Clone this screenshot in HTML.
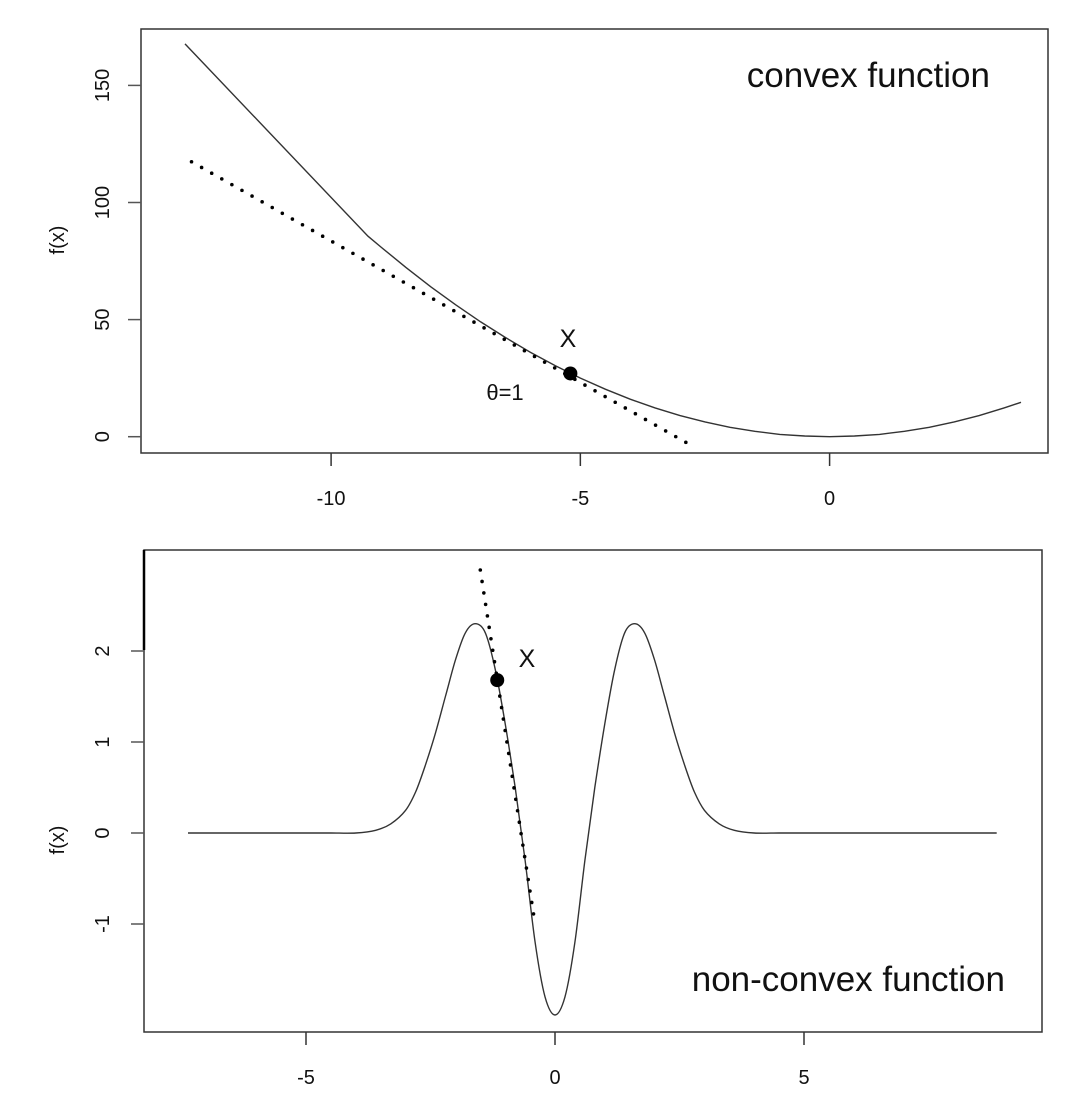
<!DOCTYPE html>
<html><head><meta charset="utf-8"><style>
html,body{margin:0;padding:0;background:#fff;}
svg{display:block;font-family:"Liberation Sans",Arial,sans-serif;}
</style></head><body>
<svg id="chart" width="1072" height="1104" viewBox="0 0 1072 1104">
<g id="top"></g>
<g id="bot"></g>
</svg>
<script>
// ---- top panel data ----
const topCurveX = [-12.93,-9.26,-9,-8.5,-8,-7.5,-7,-6.5,-6,-5.5,-5,-4.5,-4,-3.5,-3,-2.5,-2,-1.5,-1,-0.5,0,0.5,1,1.5,2,2.5,3,3.5,3.84];
const topCurveY = [167.7,85.6,81,72.3,64,56.3,49,42.3,36,30.3,25,20.3,16,12.3,9,6.3,4,2.3,1,0.3,0,0.3,1,2.3,4,6.3,9,12.3,14.7];
const topTangentX = [-12.8,-2.86];
const topTangentY = [117.4,-2.7];
const topPoint = [-5.2,27];
const topXTicks = [-10,-5,0];
const topYTicks = [0,50,100,150];
// ---- bottom panel data ----
const botCurveX = [-7.37,-6,-5,-4.5,-4,-3.6,-3.3,-3,-2.8,-2.6,-2.4,-2.2,-2,-1.8,-1.6,-1.4,-1.2,-1,-0.8,-0.6,-0.4,-0.2,0,0.2,0.4,0.6,0.8,1,1.2,1.4,1.6,1.8,2,2.2,2.4,2.6,2.8,3,3.3,3.6,4,4.5,5,6,7,8.87];
const botCurveY = [0,0,0,0,0,0.03,0.1,0.25,0.45,0.75,1.1,1.5,1.9,2.2,2.3,2.2,1.8,1.2,0.5,-0.3,-1.2,-1.8,-2.0,-1.8,-1.2,-0.3,0.5,1.2,1.8,2.2,2.3,2.2,1.9,1.5,1.1,0.75,0.45,0.25,0.1,0.03,0,0,0,0,0,0];
const botTangentX = [-1.5,-0.4];
const botTangentY = [2.89,-1.0];
const botPoint = [-1.16,1.68];
const botXTicks = [-5,0,5];
const botYTicks = [-1,0,1,2];

const NS="http://www.w3.org/2000/svg";
function mk(parent,tag,attrs){const e=document.createElementNS(NS,tag);for(const k in attrs)e.setAttribute(k,attrs[k]);parent.appendChild(e);return e;}

function smoothPath(pts,smooth){
  if(!smooth){return pts.map((p,i)=>(i?'L':'M')+p[0].toFixed(1)+' '+p[1].toFixed(1)).join('');}
  let d='M'+pts[0][0].toFixed(1)+' '+pts[0][1].toFixed(1);
  for(let i=0;i<pts.length-1;i++){
    const p0=pts[Math.max(0,i-1)],p1=pts[i],p2=pts[i+1],p3=pts[Math.min(pts.length-1,i+2)];
    const c1=[p1[0]+(p2[0]-p0[0])/6,p1[1]+(p2[1]-p0[1])/6];
    const c2=[p2[0]-(p3[0]-p1[0])/6,p2[1]-(p3[1]-p1[1])/6];
    d+='C'+c1[0].toFixed(1)+' '+c1[1].toFixed(1)+' '+c2[0].toFixed(1)+' '+c2[1].toFixed(1)+' '+p2[0].toFixed(1)+' '+p2[1].toFixed(1);
  }
  return d;
}

function panel(g,o){
  const sx=v=>o.x0px+(v-o.x0v)*o.xs;
  const sy=v=>o.y0px-(v-o.y0v)*o.ys;
  const box=mk(g,'rect',{x:o.L,y:o.T,width:o.R-o.L,height:o.B-o.T,fill:'none',stroke:'#333','stroke-width':1.5});
  
  
  o.xt.forEach(t=>{
    const l=mk(g,'line',{x1:sx(t),x2:sx(t),y1:o.B,y2:o.B+13,stroke:'#333','stroke-width':1.5});
    
    
    const tx=mk(g,'text',{x:sx(t),y:o.B+52,'text-anchor':'middle','font-size':20,fill:'#111'});
    tx.textContent=t;
    
    
  });
  o.yt.forEach(t=>{
    const l=mk(g,'line',{x1:o.L-13,x2:o.L,y1:sy(t),y2:sy(t),stroke:'#555','stroke-width':1.5});
    
    
    const tx=mk(g,'text',{x:109,y:sy(t),'text-anchor':'middle','font-size':20,fill:'#111',transform:`rotate(-90 109 ${sy(t)})`});
    tx.textContent=t;
    
    
  });
  const yl=mk(g,'text',{x:64,y:o.ylabY,'text-anchor':'middle','font-size':20,fill:'#111',transform:`rotate(-90 64 ${o.ylabY})`});
  yl.textContent='f(x)';
  
  
  const pts=o.cx.map((v,i)=>[sx(v),sy(o.cy[i])]);
  const p=mk(g,'path',{d:smoothPath(pts,o.smooth),fill:'none',stroke:'#333','stroke-width':1.4});
  
  
  const tl=mk(g,'line',{x1:sx(o.tx[0]),y1:sy(o.ty[0]),x2:sx(o.tx[1]),y2:sy(o.ty[1]),stroke:'#000','stroke-width':3.6,'stroke-linecap':'round','stroke-dasharray':'0 11.6'});
  
  
  const c=mk(g,'circle',{cx:sx(o.pt[0]),cy:sy(o.pt[1]),r:7,fill:'#000'});
  
  
  return {sx,sy};
}

const topG=document.getElementById('top');
panel(topG,{L:141,T:29,R:1048,B:453,x0px:829.6,x0v:0,xs:49.85,y0px:436.7,y0v:0,ys:2.342,smooth:false,
  xt:topXTicks,yt:topYTicks,cx:topCurveX,cy:topCurveY,tx:topTangentX,ty:topTangentY,pt:topPoint,ylabY:240});
let t=mk(topG,'text',{x:990,y:87,'text-anchor':'end','font-size':35,fill:'#111'});t.textContent='convex function';


t=mk(topG,'text',{x:568,y:347,'text-anchor':'middle','font-size':25,fill:'#111'});t.textContent='X';


t=mk(topG,'text',{x:505,y:400,'text-anchor':'middle','font-size':22,fill:'#111'});t.textContent='θ=1';



const botG=document.getElementById('bot');
panel(botG,{L:144,T:550,R:1042,B:1032,x0px:555,x0v:0,xs:49.8,y0px:833,y0v:0,ys:91,smooth:true,
  xt:botXTicks,yt:botYTicks,cx:botCurveX,cy:botCurveY,tx:botTangentX,ty:botTangentY,pt:botPoint,ylabY:840});
let e=mk(botG,'line',{x1:144,y1:550,x2:144,y2:650,stroke:'#000','stroke-width':2.5});


t=mk(botG,'text',{x:1005,y:991,'text-anchor':'end','font-size':35,fill:'#111'});t.textContent='non-convex function';


t=mk(botG,'text',{x:527,y:667,'text-anchor':'middle','font-size':25,fill:'#111'});t.textContent='X';


</script>
</body></html>
